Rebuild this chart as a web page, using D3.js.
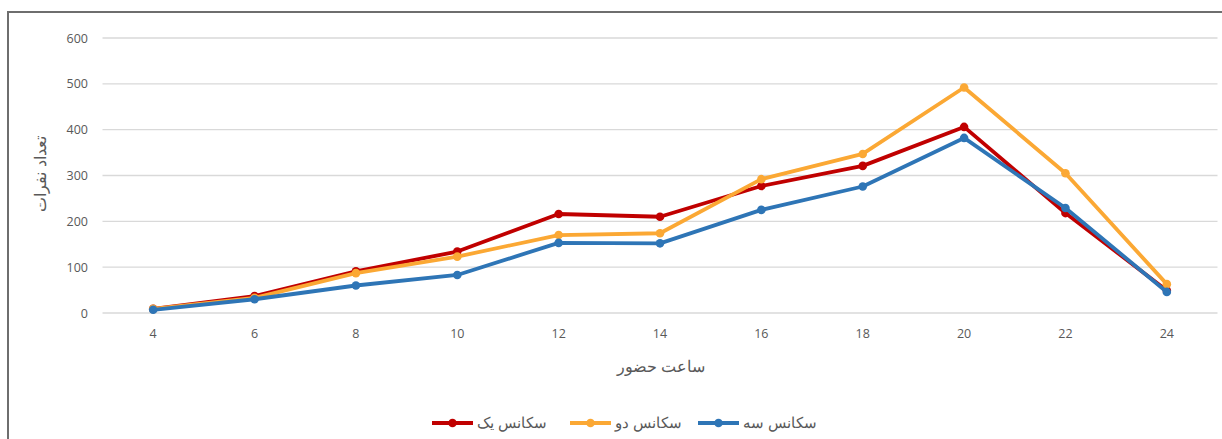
<!DOCTYPE html>
<html><head><meta charset="utf-8">
<script src="https://cdn.jsdelivr.net/npm/d3@7/dist/d3.min.js"></script>
<style>
html,body{margin:0;padding:0;background:#fff;overflow:hidden}
text{font-family:"Open Sans","Liberation Sans",Arial,sans-serif}
</style></head><body>
<svg id="c" width="1222" height="439"></svg>
<script>
const hours = [4, 6, 8, 10, 12, 14, 16, 18, 20, 22, 24];
const yTicks = [0, 100, 200, 300, 400, 500, 600];
const seriesNames = ["سکانس یک", "سکانس دو", "سکانس سه"];
const seriesColors = ["#C00000", "#FBA834", "#2E75B6"];
const seq1 = [9, 37, 91, 134, 216, 210, 277, 321, 406, 218, 49];
const seq2 = [9, 33, 87, 123, 170, 174, 292, 347, 492, 305, 63];
const seq3 = [7, 30, 60, 83, 153, 152, 225, 276, 382, 229, 46];
const xTitle = "ساعت حضور";
const yTitle = "تعداد نفرات";

const series = [seq1, seq2, seq3];
const svg = d3.select("#c");

// frame
svg.append("rect").attr("x", 8).attr("y", 12).attr("width", 1240).attr("height", 460)
  .attr("fill", "none").attr("stroke", "#6e6e6e").attr("stroke-width", 2);

const x = d3.scaleBand().domain(hours).range([102.5, 1217.5]);
const y = d3.scaleLinear().domain([0, 600]).range([313, 38]);
const cx = d => x(d) + x.bandwidth() / 2;

// gridlines
svg.append("g").selectAll("line").data(yTicks).join("line")
  .attr("x1", 102.5).attr("x2", 1217.5)
  .attr("y1", d => y(d)).attr("y2", d => y(d))
  .attr("stroke", "#d9d9d9").attr("stroke-width", 1.3);

// y axis labels
const yAxis = d3.axisLeft(y).tickValues(yTicks).tickSize(0).tickPadding(0);
const gy = svg.append("g").attr("transform", "translate(88,0)").call(yAxis);
gy.select(".domain").remove();
gy.selectAll("text").attr("fill", "#595959").attr("font-size", 12.5);

// x axis labels
const xAxis = d3.axisBottom(x).tickSize(0).tickPadding(0);
const gx = svg.append("g").attr("transform", "translate(0,329)").call(xAxis);
gx.select(".domain").remove();
gx.selectAll("text").attr("fill", "#595959").attr("font-size", 12.5);

// titles
svg.append("text").attr("x", 661).attr("y", 372).attr("text-anchor", "middle")
  .attr("fill", "#595959").attr("font-size", 15.5).text(xTitle);
svg.append("text").attr("transform", "translate(46,174) rotate(-90)")
  .attr("text-anchor", "middle").attr("fill", "#595959").attr("font-size", 15.5).text(yTitle);

// lines
const line = d3.line().x((d, i) => cx(hours[i])).y(d => y(d));
series.forEach((s, k) => {
  const g = svg.append("g");
  g.append("path").attr("d", line(s)).attr("fill", "none")
    .attr("stroke", seriesColors[k]).attr("stroke-width", 3.8).attr("stroke-linejoin", "round");
  g.selectAll("circle").data(s).join("circle")
    .attr("cx", (d, i) => cx(hours[i])).attr("cy", d => y(d)).attr("r", 4.3)
    .attr("fill", seriesColors[k]);
});

// legend
const legX = [432, 570, 698];
const leg = svg.append("g");
seriesNames.forEach((n, k) => {
  const lx = legX[k];
  leg.append("line").attr("x1", lx).attr("x2", lx + 41).attr("y1", 423).attr("y2", 423)
    .attr("stroke", seriesColors[k]).attr("stroke-width", 3.8);
  leg.append("circle").attr("cx", lx + 20.5).attr("cy", 423).attr("r", 4.3).attr("fill", seriesColors[k]);
  leg.append("text").attr("x", lx + 45).attr("y", 428).attr("text-anchor", "start")
    .attr("fill", "#595959").attr("font-size", 15).text(n);
});
</script></body></html>
